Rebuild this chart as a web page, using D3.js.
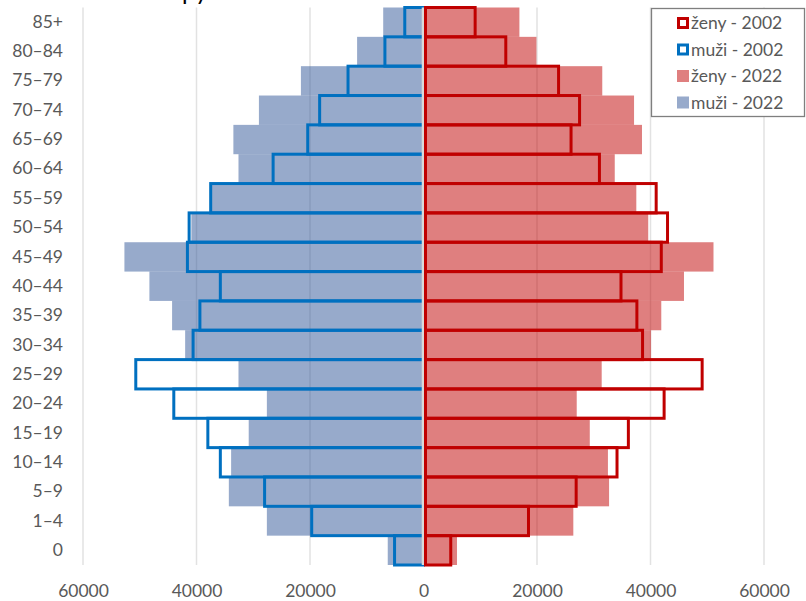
<!DOCTYPE html>
<html lang="cs">
<head>
<meta charset="UTF-8">
<title>Věková pyramida 2002 / 2022</title>
<script src="https://d3js.org/d3.v7.min.js"></script>
<style>
    body { margin: 0; background: #fff; }
    svg { display: block; font-family: Lato, "Open Sans", sans-serif; }
</style>
</head>
<body>
<svg id="chart" width="806" height="601"></svg>
<script>
    // age groups, bottom to top
    const ages = ["0", "1–4", "5–9", "10–14", "15–19", "20–24", "25–29", "30–34", "35–39",
        "40–44", "45–49", "50–54", "55–59", "60–64", "65–69", "70–74", "75–79", "80–84", "85+"];

    const men2022 = [6300, 27600, 34300, 33900, 30800, 27600, 32600, 42000, 44300,
        48300, 52700, 40900, 37300, 32600, 33500, 29000, 21600, 11700, 7100];
    const women2022 = [5900, 26400, 32700, 32500, 29300, 27000, 31400, 40100, 41900,
        45900, 51100, 39600, 37500, 33700, 38500, 37100, 31500, 19900, 16900];
    const men2002 = [5100, 19700, 28000, 35800, 38000, 44000, 50700, 40600, 39400,
        35800, 41600, 41300, 37500, 26500, 20400, 18300, 13300, 6800, 3300];
    const women2002 = [4800, 18500, 26900, 34100, 36100, 42400, 49100, 38600, 37600,
        34800, 41900, 43000, 41000, 31000, 26000, 27500, 23800, 14500, 9100];

    const xTicks = [-60000, -40000, -20000, 0, 20000, 40000, 60000];
    const legendItems = [
        { label: "ženy - 2002", kind: "outline", color: "#C00000" },
        { label: "muži - 2002", kind: "outline", color: "#0070C0" },
        { label: "ženy - 2022", kind: "fill", color: "#C00000" },
        { label: "muži - 2022", kind: "fill", color: "#2F5597" }
    ];

    const svg = d3.select("#chart");
    const TEXT = "#595959";

    const x = d3.scaleLinear().domain([-60000, 60000]).range([83, 764]);
    const y = d3.scaleBand().domain(ages.slice().reverse()).range([7.5, 565]).padding(0);

    // title - sits above the visible area, only the descenders show
    const title = svg.append("text")
        .attr("y", -0.5)
        .style("font-size", "24px")
        .attr("fill", "#000")
        .text("Věková pyramida");
    const pre = title.node().getSubStringLength(0, 7);
    title.attr("x", 182 - pre);

    // vertical gridlines
    svg.append("g")
        .selectAll("line")
        .data(xTicks.filter(d => d !== 0))
        .join("line")
        .attr("x1", d => x(d)).attr("x2", d => x(d))
        .attr("y1", 7.5).attr("y2", 565)
        .attr("stroke", "#e2e2e2")
        .attr("stroke-width", 1.5);

    // 2022 filled bars
    const fills = svg.append("g").attr("fill-opacity", 0.5);
    fills.selectAll("rect.m")
        .data(ages)
        .join("rect")
        .attr("class", "m")
        .attr("x", (d, i) => x(-men2022[i]))
        .attr("width", (d, i) => x(0) - x(-men2022[i]))
        .attr("y", d => y(d))
        .attr("height", y.bandwidth())
        .attr("fill", "#2F5597");
    fills.selectAll("rect.w")
        .data(ages)
        .join("rect")
        .attr("class", "w")
        .attr("x", x(0))
        .attr("width", (d, i) => x(women2022[i]) - x(0))
        .attr("y", d => y(d))
        .attr("height", y.bandwidth())
        .attr("fill", "#C00000");

    // 2002 outlined bars
    svg.append("g").selectAll("rect")
        .data(ages)
        .join("rect")
        .attr("x", (d, i) => x(-men2002[i]))
        .attr("width", (d, i) => x(0) - x(-men2002[i]))
        .attr("y", d => y(d))
        .attr("height", y.bandwidth())
        .attr("fill", "none")
        .attr("stroke", "#0070C0")
        .attr("stroke-width", 3);

    // zero axis
    svg.append("line")
        .attr("x1", x(0) - 0.5).attr("x2", x(0) - 0.5)
        .attr("y1", 7.5).attr("y2", 565)
        .attr("stroke", "#d9d9d9")
        .attr("stroke-width", 2.5);

    svg.append("g").selectAll("rect")
        .data(ages)
        .join("rect")
        .attr("x", x(0) + 2)
        .attr("width", (d, i) => x(women2002[i]) - x(0) - 2)
        .attr("y", d => y(d))
        .attr("height", y.bandwidth())
        .attr("fill", "none")
        .attr("stroke", "#C00000")
        .attr("stroke-width", 3);

    // x axis labels
    const xAxis = svg.append("g")
        .attr("transform", "translate(0,565)")
        .call(d3.axisBottom(x).tickValues(xTicks).tickFormat(d => Math.abs(d)).tickSize(0).tickPadding(20));
    xAxis.select(".domain").remove();
    xAxis.selectAll("text")
        .attr("fill", TEXT)
        .style("font-size", "17.5px")
        .style("font-family", "Lato, 'Open Sans', sans-serif");

    // y axis labels
    const yAxis = svg.append("g")
        .attr("transform", "translate(63,0)")
        .call(d3.axisLeft(y).tickSize(0).tickPadding(0));
    yAxis.select(".domain").remove();
    yAxis.selectAll("text")
        .attr("fill", TEXT)
        .style("font-size", "17.5px")
        .style("font-family", "Lato, 'Open Sans', sans-serif");

    // legend
    const legend = svg.append("g");
    legend.append("rect")
        .attr("x", 651.5).attr("y", 8.5)
        .attr("width", 153).attr("height", 108)
        .attr("fill", "#fff")
        .attr("stroke", "#7f7f7f")
        .attr("stroke-width", 1.3);
    const rows = legend.selectAll("g.item")
        .data(legendItems)
        .join("g")
        .attr("class", "item")
        .attr("transform", (d, i) => `translate(677,${23 + i * 26.5})`);
    rows.append("rect")
        .attr("x", d => d.kind === "outline" ? 1.5 : 0)
        .attr("y", d => d.kind === "outline" ? -4.5 : -6)
        .attr("width", d => d.kind === "outline" ? 9 : 12)
        .attr("height", d => d.kind === "outline" ? 9 : 12)
        .attr("fill", d => d.kind === "outline" ? "#fff" : d.color)
        .attr("fill-opacity", d => d.kind === "outline" ? 1 : 0.5)
        .attr("stroke", d => d.kind === "outline" ? d.color : "none")
        .attr("stroke-width", 3);
    rows.append("text")
        .attr("x", 14)
        .attr("dy", "0.35em")
        .attr("fill", TEXT)
        .style("font-size", "17.5px")
        .text(d => d.label);
</script>
</body>
</html>
